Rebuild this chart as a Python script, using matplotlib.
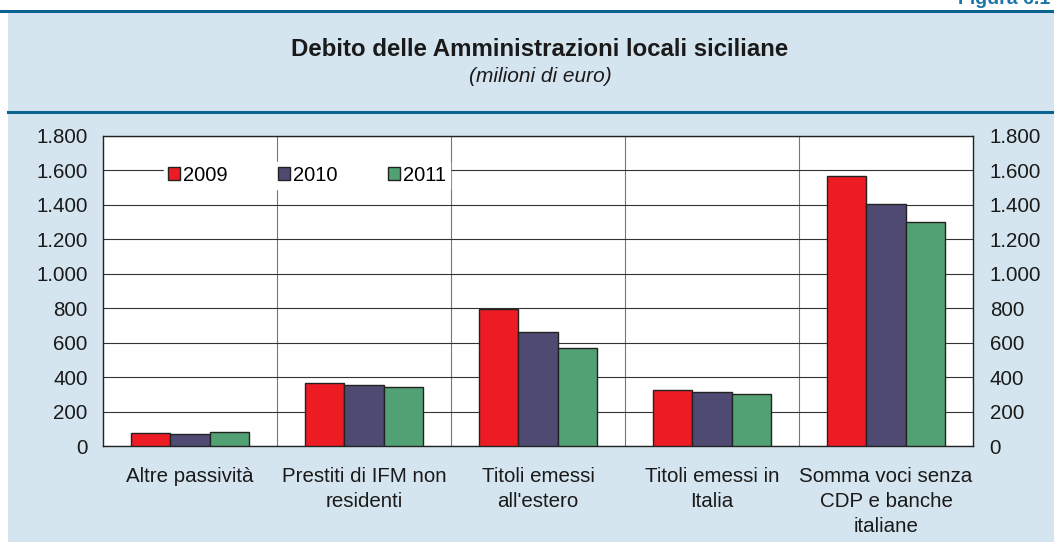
import matplotlib.pyplot as plt
import numpy as np

plt.rcParams['font.family'] = ['Liberation Sans', 'DejaVu Sans']

# dati (milioni di euro)
categorie = ["Altre passività", "Prestiti di IFM non\nresidenti", "Titoli emessi\nall'estero",
             "Titoli emessi in\nItalia", "Somma voci senza\nCDP e banche\nitaliane"]
anni = ["2009", "2010", "2011"]
v2009 = [78, 365, 795, 325, 1570]
v2010 = [70, 355, 660, 315, 1405]
v2011 = [83, 345, 570, 300, 1300]
colori = ["#ed1c24", "#4f4a72", "#52a174"]
yticks = [0, 200, 400, 600, 800, 1000, 1200, 1400, 1600, 1800]
ylabels = ["0", "200", "400", "600", "800", "1.000", "1.200", "1.400", "1.600", "1.800"]

W, H = 1054, 542
fig = plt.figure(figsize=(W / 100, H / 100), dpi=100)
fig.patch.set_facecolor("white")

# sfondo azzurro e linee di cornice
bg = "#d4e5ef"
fig.add_artist(plt.Rectangle((8 / W, 0), 1, 1 - 11 / H, transform=fig.transFigure,
                             facecolor=bg, edgecolor="none", zorder=-5))
fig.add_artist(plt.Line2D([0, 1], [1 - 11 / H, 1 - 11 / H], color="#0a6390", lw=2.2))
fig.add_artist(plt.Line2D([8 / W, 1], [1 - 112 / H, 1 - 112 / H], color="#0a6390", lw=2.2))
fig.text(1050 / W, 1 + 1 / H, "Figura 6.1", ha="right", va="center", fontsize=14,
         fontweight="bold", color="#1a75a8")

fig.text(540 / W, 1 - 50 / H, "Debito delle Amministrazioni locali siciliane", ha="center",
         va="center", fontsize=17.3, fontweight="bold", color="#1a1a1a")
fig.text(540 / W, 1 - 77 / H, "(milioni di euro)", ha="center", va="center", fontsize=15,
         style="italic", color="#1a1a1a")

ax = fig.add_axes([103 / W, (H - 446) / H, 870 / W, 310 / H])
ax.set_facecolor("white")
x = np.arange(len(categorie))
w = 0.225
for i, (vals, c) in enumerate(zip([v2009, v2010, v2011], colori)):
    ax.bar(x + (i - 1) * w, vals, width=w, color=c, edgecolor="#222222", linewidth=1,
           label=anni[i], zorder=3)

ax.set_xlim(-0.5, len(categorie) - 0.5)
ax.set_ylim(0, 1800)
ax.set_yticks(yticks)
ax.set_yticklabels(ylabels)
ax.set_xticks(x)
ax.set_xticklabels(categorie, linespacing=1.41)
ax.set_xticks(np.arange(len(categorie) - 1) + 0.5, minor=True)
ax.grid(axis="y", color="#333333", lw=0.8, zorder=0)
ax.grid(axis="x", which="minor", color="#777777", lw=0.8, zorder=0)
ax.tick_params(axis="both", which="both", length=0, labelsize=14.8, colors="#1a1a1a")
ax.tick_params(axis="y", pad=11)
ax.tick_params(axis="x", pad=15)
for s in ax.spines.values():
    s.set_color("#222222")
    s.set_linewidth(1)

ax2 = ax.twinx()
ax2.set_ylim(0, 1800)
ax2.set_yticks(yticks)
ax2.set_yticklabels(ylabels)
ax2.tick_params(axis="y", length=0, labelsize=14.8, colors="#1a1a1a", pad=12)
for s in ax2.spines.values():
    s.set_visible(False)

leg = ax.legend(loc="upper left", bbox_to_anchor=(0.058, 0.95), ncol=3, frameon=True,
                fontsize=14.5, handlelength=0.6, handleheight=0.6, handletextpad=0.15,
                columnspacing=2.5, borderpad=0.2, fancybox=False)
leg.get_frame().set_facecolor("white")
leg.get_frame().set_edgecolor("white")
leg.get_frame().set_alpha(1)
leg.set_zorder(5)

fig.savefig("out.png", dpi=100, facecolor=fig.get_facecolor())
